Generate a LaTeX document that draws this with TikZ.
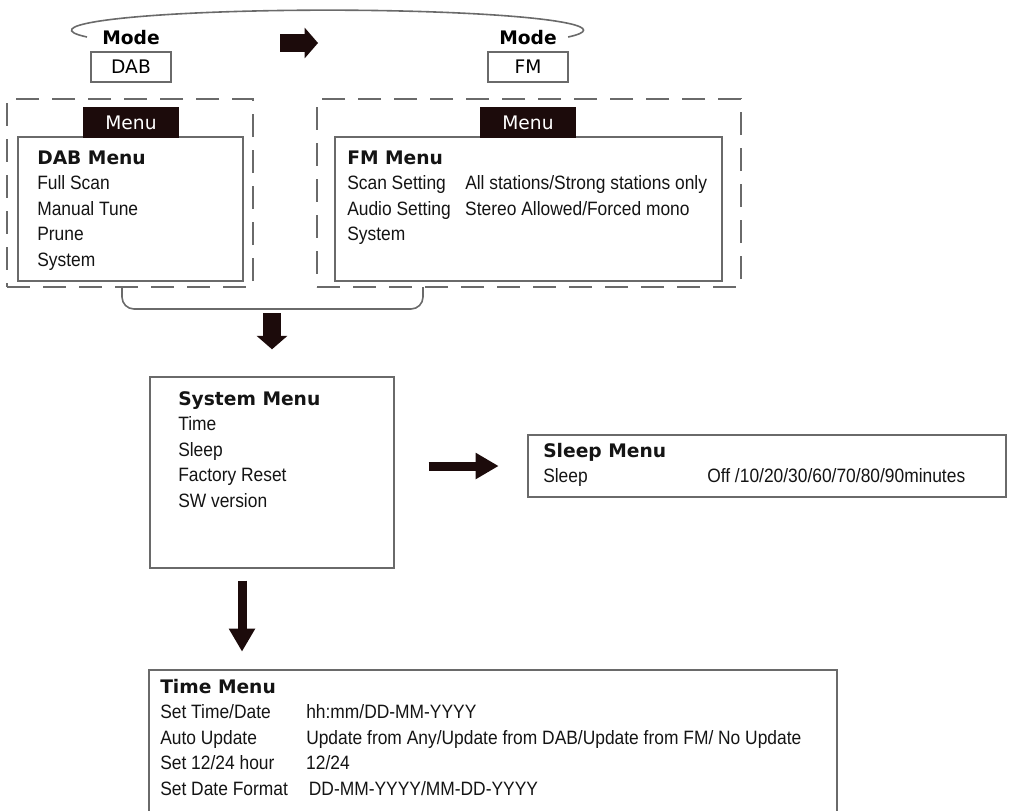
\documentclass[tikz,border=0pt]{standalone}
\usepackage{fontspec}
\setmainfont{Liberation Sans}[FakeStretch=0.9]
\newfontfamily\dejavu{DejaVu Sans}
\usetikzlibrary{positioning, arrows.meta, fit, calc}

\definecolor{ink}{HTML}{1C0B0B}
\definecolor{rim}{HTML}{6A6A6A}

\newcommand{\hd}[1]{{\fontsize{14pt}{19.2pt}\dejavu\bfseries #1}}

\begin{document}
\begin{tikzpicture}[
    x=0.75pt, y=-0.75pt,
    frame/.style={draw=rim, line width=1.1pt, inner sep=0pt},
    group/.style={draw=rim, line width=1.5pt, dash pattern=on 17pt off 10pt, inner sep=0pt},
    tab/.style={fill=ink, text=white, font=\fontsize{14pt}{16pt}\dejavu, minimum width=72pt, minimum height=23.25pt, inner sep=0pt},
    modebox/.style={draw=rim, line width=1.1pt, font=\fontsize{14pt}{16pt}\dejavu, minimum width=60pt, minimum height=22.5pt, inner sep=0pt},
    modelabel/.style={font=\fontsize{14pt}{16pt}\dejavu\bfseries, inner sep=0pt},
    content/.style={font=\fontsize{14.5pt}{19.2pt}\selectfont, text=black!92, inner sep=0pt, anchor=base west},
    fatarrow/.style={draw=ink, line width=13pt, -{Triangle[width=23pt, length=10pt, line width=0pt 0 0]}},
    slimarrow/.style={draw=ink, line width=6.75pt, -{Triangle[width=20pt, length=17pt, line width=0pt 0 0]}},
    thinline/.style={draw=rim, line width=1.2pt}
  ]
  \useasboundingbox (0,0) rectangle (1013,810);

  % Mode switch
  \node[modebox] (dab) at (131,67) {DAB};
  \node[modebox] (fm) at (528,67) {FM};
  \node[modelabel, above=4.5pt of dab] (dabmode) {Mode};
  \node[modelabel, above=4.5pt of fm] (fmmode) {Mode};
  \draw[thinline] (87,37) arc[start angle=200, end angle=-20, x radius=192pt, y radius=15pt];
  \coordinate (topA) at (280,43);
  \coordinate (topB) at (318,43);
  \draw[fatarrow] (topA) -- (topB);

  % Mode menus
  \node[group, fit={(7,99) (253,287)}] (dabgrp) {};
  \node[group, fit={(317,99) (741,287)}] (fmgrp) {};
  \node[frame, fill=white, fit={(18,137) (243,281)}] (dabmenu) {};
  \node[frame, fill=white, fit={(335,137) (722,281)}] (fmmenu) {};
  \node[tab] (dabtab) at (131,122.5) {Menu};
  \node[tab] (fmtab) at (528,122.5) {Menu};

  \node[content] (dablist) at (37,164) {\begin{tabular}[t]{@{}l@{}}
    \hd{DAB Menu}\\ Full Scan\\ Manual Tune\\ Prune\\ System
  \end{tabular}};
  \node[content] (fmlist) at (347,164) {\begin{tabular}[t]{@{}p{88.5pt}@{}l@{}}
    \multicolumn{2}{@{}l@{}}{\hd{FM Menu}}\\
    Scan Setting & All stations/Strong stations only\\
    Audio Setting & Stereo Allowed/Forced mono\\
    System &
  \end{tabular}};

  % Bracket joining both menus
  \coordinate (brkL) at (122,287);
  \coordinate (brkR) at (423,287);
  \coordinate (brk) at (272,309);
  \draw[thinline, rounded corners=9pt] (brkL) -- (brkL |- brk) -- (brkR |- brk) -- (brkR);

  % System menu
  \node[frame, fit={(150,377) (394,568)}] (sysmenu) {};
  \node[content] (syslist) at (178,405) {\begin{tabular}[t]{@{}l@{}}
    \hd{System Menu}\\ Time\\ Sleep\\ Factory Reset\\ SW version
  \end{tabular}};

  % Sleep menu
  \node[frame, fit={(528,435) (1006,497)}] (sleepmenu) {};
  \node[content] (sleeplist) at (543,457) {\begin{tabular}[t]{@{}p{123pt}@{}l@{}}
    \multicolumn{2}{@{}l@{}}{\hd{Sleep Menu}}\\
    Sleep & Off /10/20/30/60/70/80/90minutes
  \end{tabular}};

  % Time menu
  \node[frame, fit={(149,670) (837,818)}] (timemenu) {};
  \node[content] (timelist) at (160,693) {\begin{tabular}[t]{@{}p{109.5pt}@{}l@{}}
    \multicolumn{2}{@{}l@{}}{\hd{Time Menu}}\\
    Set Time/Date & hh:mm/DD-MM-YYYY\\
    Auto Update & Update from Any/Update from DAB/Update from FM/ No Update\\
    Set 12/24 hour & 12/24\\
    Set Date Format & \hspace{2pt}DD-MM-YYYY/MM-DD-YYYY
  \end{tabular}};

  % Arrows between menus
  \draw[fatarrow] ($(brk)+(0,4)$) -- ($(sysmenu.north)+(0,-27)$);
  \draw[slimarrow] ($(sysmenu.east |- sleepmenu.west)+(34,0)$) -- ($(sleepmenu.west)+(-29,0)$);
  \draw[slimarrow] ($(sysmenu.south)+(-30,12)$) -- ($(timemenu.north -| sysmenu.south)+(-30,-18)$);

\end{tikzpicture}
\end{document}
